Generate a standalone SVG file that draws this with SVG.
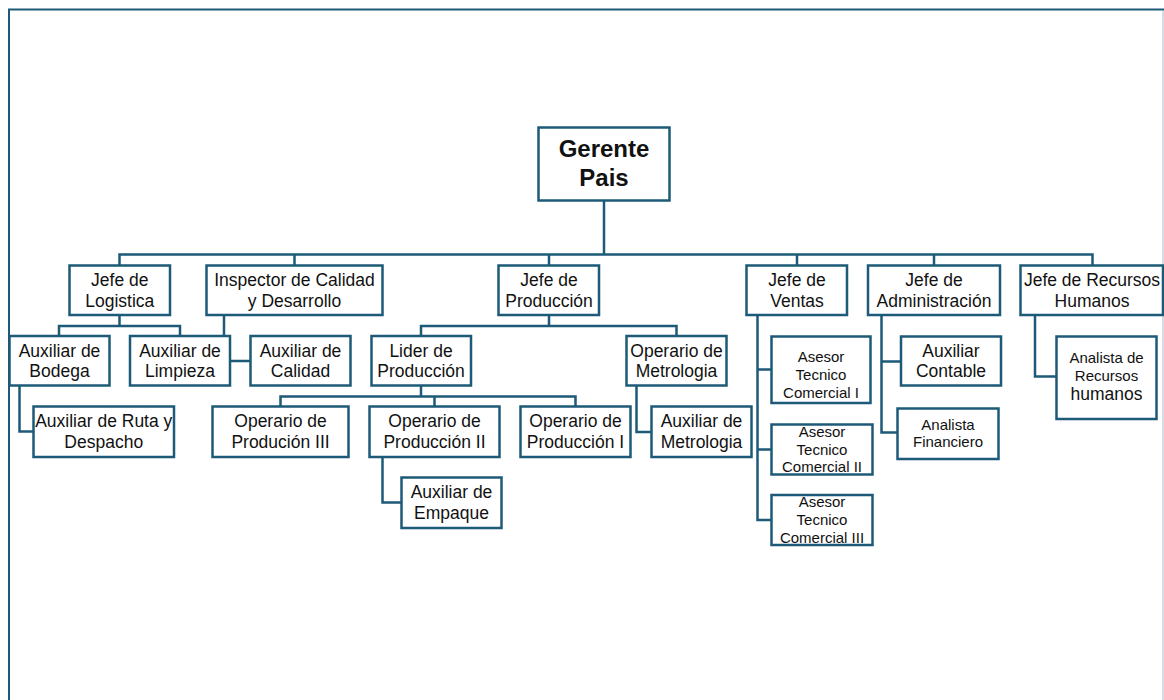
<svg xmlns="http://www.w3.org/2000/svg" width="1164" height="700" viewBox="0 0 1164 700">
<style>
.box{fill:#fff;stroke:#1c5a78;stroke-width:2.5}
.c{fill:none;stroke:#1c5a78;stroke-width:2.5}
text{font-family:"Liberation Sans",Arial,sans-serif;fill:#111;text-anchor:middle}
.t{font-size:17.5px}
.s{font-size:15px}
.b{font-size:24px;font-weight:bold}
</style>
<rect width="1164" height="700" fill="#fff"/>
<g id="frame">
<path d="M9,700 V9.5 H1164" fill="none" stroke="#1c5a78" stroke-width="2"/>
<path d="M1163,11 V700" fill="none" stroke="#c9d1d9" stroke-width="1.5"/>
</g>
<g id="connectors">
<path class="c" d="M604,200.5 V254.5" stroke-width="3"/>
<path class="c" d="M119.5,265.5 V254.5 H1092.5 V265.5 M294.5,254.5 V265.5 M549,254.5 V265.5 M797,254.5 V265.5 M934,254.5 V265.5"/>
<path class="c" d="M119.5,315 V326 M59,336 V326 H180 V336"/>
<path class="c" d="M224,315 V361 H250.5"/>
<path class="c" d="M19.5,385.5 V431.5 H33.5"/>
<path class="c" d="M549,315 V326 M421,336 V326 H676.5 V336"/>
<path class="c" d="M421,385.5 V396.5 M280.5,406.5 V396.5 H575.5 V406.5 M434.5,396.5 V406.5"/>
<path class="c" d="M382.5,457 V502.5 H401.5"/>
<path class="c" d="M636.5,385.5 V432 H651.5"/>
<path class="c" d="M757.5,315 V520 H771.5 M757.5,369.5 H771.5 M757.5,449.5 H771.5"/>
<path class="c" d="M881.5,315 V432.5 H897.5 M881.5,361.5 H901"/>
<path class="c" d="M1035,315 V376.5 H1056.5"/>
</g>
<g id="gerente"><rect class="box" x="538.5" y="127.5" width="131" height="73"/><text class="b" x="604" y="157">Gerente</text><text class="b" x="604" y="186">Pais</text></g>
<g id="jefe-logistica"><rect class="box" x="69.5" y="265.5" width="100.5" height="49.5"/><text class="t" x="119.75" y="286">Jefe de</text><text class="t" x="119.75" y="306.5">Logistica</text></g>
<g id="inspector"><rect class="box" x="206.5" y="265.5" width="176" height="49.5"/><text class="t" x="294.5" y="286">Inspector de Calidad</text><text class="t" x="294.5" y="306.5">y Desarrollo</text></g>
<g id="jefe-produccion"><rect class="box" x="498.5" y="265.5" width="100.5" height="49.5"/><text class="t" x="549" y="286">Jefe de</text><text class="t" x="549" y="306.5">Producción</text></g>
<g id="jefe-ventas"><rect class="box" x="746.5" y="265.5" width="100.5" height="49.5"/><text class="t" x="797" y="286">Jefe de</text><text class="t" x="797" y="306.5">Ventas</text></g>
<g id="jefe-administracion"><rect class="box" x="868" y="265.5" width="132" height="49.5"/><text class="t" x="934" y="286">Jefe de</text><text class="t" x="934" y="306.5">Administración</text></g>
<g id="jefe-rrhh"><rect class="box" x="1020.5" y="265.5" width="142.5" height="49.5"/><text class="t" x="1092" y="286">Jefe de Recursos</text><text class="t" x="1092" y="306.5">Humanos</text></g>
<g id="aux-bodega"><rect class="box" x="9.5" y="336" width="100" height="49.5"/><text class="t" x="59.5" y="356.5">Auxiliar de</text><text class="t" x="59.5" y="377">Bodega</text></g>
<g id="aux-limpieza"><rect class="box" x="130" y="336" width="100" height="49.5"/><text class="t" x="180" y="356.5">Auxiliar de</text><text class="t" x="180" y="377">Limpieza</text></g>
<g id="aux-calidad"><rect class="box" x="250.5" y="336" width="100" height="49.5"/><text class="t" x="300.5" y="356.5">Auxiliar de</text><text class="t" x="300.5" y="377">Calidad</text></g>
<g id="lider-produccion"><rect class="box" x="371.5" y="336" width="99.5" height="49.5"/><text class="t" x="421" y="356.5">Lider de</text><text class="t" x="421" y="377">Producción</text></g>
<g id="op-metrologia"><rect class="box" x="626.5" y="336" width="100" height="49.5"/><text class="t" x="676.5" y="356.5">Operario de</text><text class="t" x="676.5" y="377">Metrologia</text></g>
<g id="asesor-1"><rect class="box" x="771.5" y="336.5" width="99" height="66.5"/><text class="s" x="821" y="361.5">Asesor</text><text class="s" x="821" y="380">Tecnico</text><text class="s" x="821" y="398">Comercial I</text></g>
<g id="aux-contable"><rect class="box" x="901" y="336.5" width="100" height="49"/><text class="t" x="951" y="356.5">Auxiliar</text><text class="t" x="951" y="377">Contable</text></g>
<g id="analista-rrhh"><rect class="box" x="1056.5" y="336.5" width="100" height="82.5"/><text class="s" x="1106.5" y="363">Analista de</text><text class="s" x="1106.5" y="381">Recursos</text><text class="t" x="1106.5" y="400">humanos</text></g>
<g id="aux-ruta"><rect class="box" x="33.5" y="406.5" width="140.5" height="50.5"/><text class="t" x="103.75" y="427">Auxiliar de Ruta y</text><text class="t" x="103.75" y="448">Despacho</text></g>
<g id="op-prod-3"><rect class="box" x="212.5" y="406.5" width="136" height="50.5"/><text class="t" x="280.5" y="427">Operario de</text><text class="t" x="280.5" y="448">Produción III</text></g>
<g id="op-prod-2"><rect class="box" x="369.5" y="406.5" width="130" height="50.5"/><text class="t" x="434.5" y="427">Operario de</text><text class="t" x="434.5" y="448">Producción II</text></g>
<g id="op-prod-1"><rect class="box" x="520.5" y="406.5" width="110" height="50.5"/><text class="t" x="575.5" y="427">Operario de</text><text class="t" x="575.5" y="448">Producción I</text></g>
<g id="aux-metrologia"><rect class="box" x="651.5" y="406.5" width="100" height="50.5"/><text class="t" x="701.5" y="427">Auxiliar de</text><text class="t" x="701.5" y="448">Metrologia</text></g>
<g id="asesor-2"><rect class="box" x="771.5" y="424.5" width="101" height="50"/><text class="s" x="822" y="436.5">Asesor</text><text class="s" x="822" y="454.5">Tecnico</text><text class="s" x="822" y="472">Comercial  II</text></g>
<g id="analista-financiero"><rect class="box" x="897.5" y="408.5" width="101" height="50.5"/><text class="s" x="948" y="429.5">Analista</text><text class="s" x="948" y="447">Financiero</text></g>
<g id="aux-empaque"><rect class="box" x="401.5" y="477.5" width="100" height="50.5"/><text class="t" x="451.5" y="498">Auxiliar de</text><text class="t" x="451.5" y="519">Empaque</text></g>
<g id="asesor-3"><rect class="box" x="771.5" y="495" width="101" height="50"/><text class="s" x="822" y="507">Asesor</text><text class="s" x="822" y="525">Tecnico</text><text class="s" x="822" y="542.5">Comercial  III</text></g>
</svg>
